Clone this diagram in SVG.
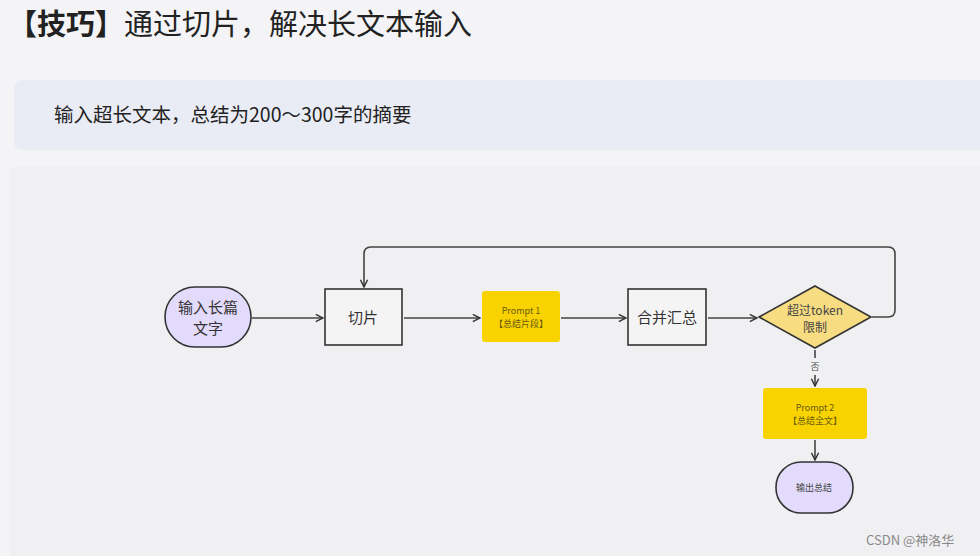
<svg xmlns="http://www.w3.org/2000/svg" width="980" height="556" viewBox="0 0 980 556">
<defs>
<style>
text{font-family:"Noto Sans CJK SC","Liberation Sans",sans-serif;}
.ln{fill:none;stroke:#444;stroke-width:1.6;}
.box{fill:#f4f4f4;stroke:#333;stroke-width:1.6;}
.term{fill:#e3dbfb;stroke:#333;stroke-width:1.6;}
.yel{fill:#f8d300;}
.lbl{font-size:15px;fill:#333;text-anchor:middle;}
.sm{font-size:9px;fill:#6a5a10;text-anchor:middle;}
</style>
<marker id="ah" viewBox="0 0 10 10" refX="9" refY="5" markerWidth="9" markerHeight="9" orient="auto" markerUnits="userSpaceOnUse">
<path d="M1,1 L9,5 L1,9" fill="none" stroke="#333" stroke-width="1.6"/>
</marker>
</defs>
<rect width="980" height="556" fill="#f4f4f6"/>
<text x="8" y="35" font-size="29" fill="#222"><tspan font-weight="bold">【技巧】</tspan>通过切片，解决长文本输入</text>
<rect x="14" y="80" width="980" height="70" rx="8" fill="#eaecf5"/>
<text x="54" y="122" font-size="19.5" fill="#222">输入超长文本，总结为200～300字的摘要</text>
<rect x="10" y="166" width="980" height="400" rx="6" fill="#f0f0f2"/>
<g id="connectors">
<path class="ln" d="M252,318 H323" marker-end="url(#ah)"/>
<path class="ln" d="M404,318 H480" marker-end="url(#ah)"/>
<path class="ln" d="M561,318 H626" marker-end="url(#ah)"/>
<path class="ln" d="M708,318 H757" marker-end="url(#ah)"/>
<path class="ln" d="M872,317 H888 Q895,317 895,310 V254 Q895,247 888,247 H371 Q364,247 364,254 V287" marker-end="url(#ah)"/>
<path class="ln" d="M815,350 V358"/>
<path class="ln" d="M815,375 V386" marker-end="url(#ah)"/>
<text x="815" y="370" font-size="9" fill="#555" text-anchor="middle">否</text>
<path class="ln" d="M815,440 V460" marker-end="url(#ah)"/>
</g>
<g id="n_input">
<rect class="term" x="165" y="287" width="86" height="60" rx="30"/>
<text class="lbl" x="208" y="313">输入长篇</text>
<text class="lbl" x="208" y="334">文字</text>
</g>
<g id="n_slice">
<rect class="box" x="325" y="289" width="77" height="56"/>
<text class="lbl" x="363" y="323">切片</text>
</g>
<g id="n_prompt1">
<rect class="yel" x="482" y="291" width="78" height="51" rx="3"/>
<text class="sm" x="521" y="314">Prompt 1</text>
<text class="sm" x="521" y="327">【总结片段】</text>
</g>
<g id="n_merge">
<rect class="box" x="628" y="289" width="78" height="56"/>
<text class="lbl" x="667" y="323">合并汇总</text>
</g>
<g id="n_check">
<polygon points="815,286 871,317 815,348 759,317" fill="#f8dc82" stroke="#333" stroke-width="1.6"/>
<text x="815" y="315" font-size="12" fill="#444" text-anchor="middle">超过token</text>
<text x="815" y="332" font-size="12" fill="#444" text-anchor="middle">限制</text>
</g>
<g id="n_prompt2">
<rect class="yel" x="763" y="388" width="104" height="51" rx="3"/>
<text class="sm" x="815" y="411">Prompt 2</text>
<text class="sm" x="815" y="424">【总结全文】</text>
</g>
<g id="n_output">
<rect class="term" x="776" y="462" width="77" height="51" rx="25"/>
<text x="814" y="491" font-size="9" fill="#444" text-anchor="middle">输出总结</text>
</g>
<text x="866" y="545" font-size="13" fill="#888">CSDN @神洛华</text>
</svg>
